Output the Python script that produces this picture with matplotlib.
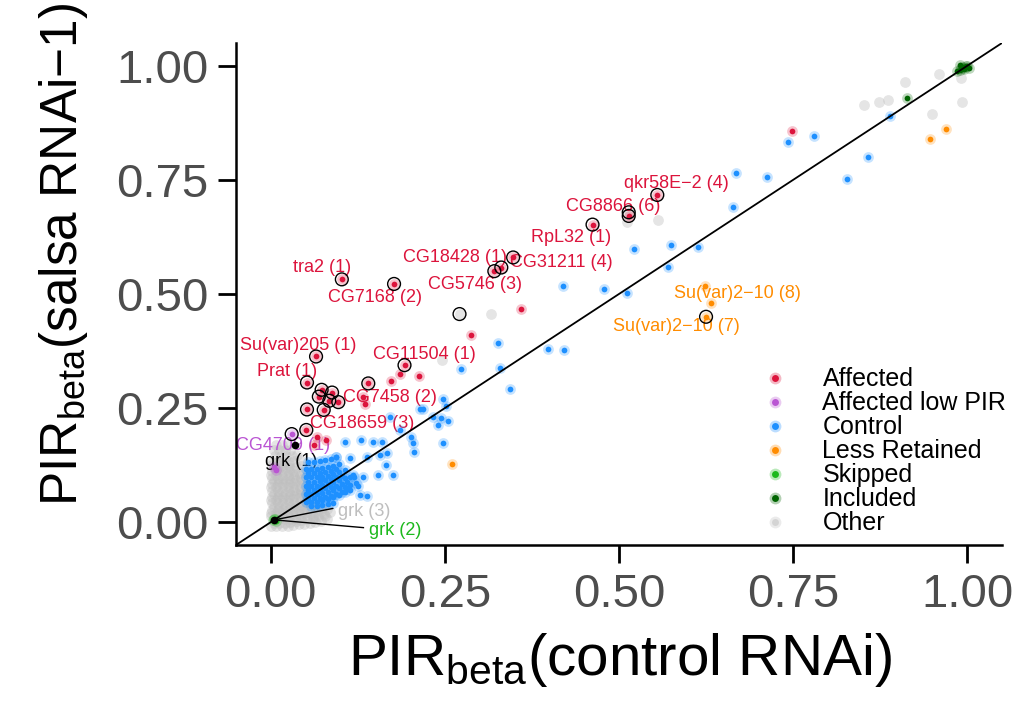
import matplotlib
matplotlib.use("Agg")
import matplotlib.pyplot as plt
from matplotlib.lines import Line2D

plt.rcParams['font.family'] = ['Liberation Sans', 'DejaVu Sans']
plt.rcParams['mathtext.fontset'] = 'custom'
plt.rcParams['mathtext.rm'] = 'Liberation Sans'

# ---- data (PIR control RNAi, PIR salsa RNAi-1) ----
affected_x = [0.748, 0.555, 0.514, 0.462, 0.348, 0.331, 0.321, 0.359, 0.288, 0.102, 0.177,
              0.065, 0.052, 0.192, 0.186, 0.213, 0.172, 0.140, 0.132, 0.135, 0.073, 0.088,
              0.069, 0.084, 0.097, 0.052, 0.076, 0.051, 0.067, 0.079, 0.062]
affected_y = [0.857, 0.717, 0.671, 0.652, 0.580, 0.558, 0.550, 0.466, 0.410, 0.532, 0.522,
              0.363, 0.306, 0.344, 0.325, 0.321, 0.309, 0.304, 0.275, 0.259, 0.290, 0.284,
              0.275, 0.266, 0.263, 0.247, 0.246, 0.202, 0.187, 0.181, 0.170]

lowpir_x = [0.030, 0.008, 0.005]
lowpir_y = [0.193, 0.114, 0.120]

control_x = [0.668, 0.713, 0.742, 0.780, 0.827, 0.857, 0.889, 0.664, 0.521, 0.574, 0.614,
             0.571, 0.419, 0.479, 0.512, 0.326, 0.273, 0.329, 0.398, 0.421, 0.343, 0.247,
             0.252, 0.218, 0.245, 0.255, 0.240, 0.247, 0.214, 0.233, 0.171, 0.185, 0.202,
             0.204, 0.159, 0.147, 0.130, 0.106, 0.206, 0.167, 0.157, 0.138, 0.114, 0.094,
             0.166, 0.154, 0.176, 0.118, 0.132, 0.138,
             # dense blue patch above the diagonal near the origin
             0.050, 0.058, 0.066, 0.074, 0.082, 0.090, 0.098, 0.106, 0.114,
             0.050, 0.058, 0.066, 0.074, 0.082, 0.090, 0.098, 0.106, 0.114, 0.122,
             0.050, 0.058, 0.066, 0.074, 0.082, 0.090, 0.098, 0.106, 0.114,
             0.050, 0.058, 0.066, 0.074, 0.082, 0.090, 0.098, 0.106,
             0.050, 0.058, 0.066, 0.074, 0.082, 0.090, 0.098,
             0.054, 0.062, 0.070, 0.078, 0.086, 0.094,
             0.058, 0.066, 0.074, 0.082, 0.090, 0.120, 0.125, 0.128,
             0.054, 0.062, 0.070, 0.078, 0.086, 0.094, 0.102, 0.110,
             0.054, 0.062, 0.070, 0.078, 0.086, 0.094, 0.102, 0.110,
             0.054, 0.062, 0.070, 0.078, 0.086, 0.094, 0.102,
             0.054, 0.062, 0.070, 0.078, 0.086, 0.094]
control_y = [0.766, 0.756, 0.832, 0.847, 0.752, 0.801, 0.890, 0.690, 0.599, 0.607, 0.602,
             0.560, 0.518, 0.511, 0.503, 0.393, 0.335, 0.337, 0.379, 0.377, 0.291, 0.270,
             0.255, 0.247, 0.228, 0.222, 0.212, 0.174, 0.247, 0.231, 0.230, 0.202, 0.187,
             0.173, 0.176, 0.176, 0.181, 0.175, 0.154, 0.151, 0.147, 0.143, 0.140, 0.143,
             0.125, 0.103, 0.103, 0.103, 0.099, 0.058,
             0.045, 0.045, 0.045, 0.048, 0.050, 0.055, 0.060, 0.065, 0.070,
             0.062, 0.062, 0.062, 0.064, 0.066, 0.070, 0.074, 0.078, 0.082, 0.086,
             0.080, 0.080, 0.080, 0.082, 0.084, 0.088, 0.092, 0.096, 0.100,
             0.098, 0.098, 0.098, 0.100, 0.102, 0.106, 0.110, 0.114,
             0.116, 0.116, 0.116, 0.118, 0.120, 0.124, 0.128,
             0.132, 0.132, 0.134, 0.136, 0.138, 0.142,
             0.035, 0.035, 0.037, 0.040, 0.042, 0.100, 0.080, 0.060,
             0.053, 0.053, 0.054, 0.056, 0.058, 0.062, 0.067, 0.072,
             0.071, 0.071, 0.072, 0.074, 0.076, 0.080, 0.084, 0.088,
             0.089, 0.089, 0.090, 0.092, 0.094, 0.098, 0.102,
             0.107, 0.107, 0.108, 0.110, 0.112, 0.116]

less_x = [0.624, 0.632, 0.625, 0.260, 0.969, 0.946]
less_y = [0.518, 0.480, 0.450, 0.128, 0.862, 0.840]

skipped_x = [0.003, 0.006, 0.008, 0.004]
skipped_y = [0.004, 0.006, 0.003, 0.008]

included_x = [0.913, 0.990, 0.994, 0.998, 1.000, 0.996, 0.992, 0.986, 1.002, 0.990]
included_y = [0.930, 0.990, 0.996, 0.999, 1.000, 0.993, 0.997, 0.988, 0.996, 1.001]

other_x = [0.512, 0.556, 0.514, 0.271, 0.316, 0.246, 0.852, 0.874, 0.886, 0.911, 0.959,
           0.991, 0.993, 0.949,
           # dense grey cloud of low-PIR events near the origin
           0.000, 0.008, 0.016, 0.024, 0.032, 0.040, 0.048, 0.056, 0.064, 0.072, 0.080,
           0.004, 0.012, 0.020, 0.028, 0.036, 0.044, 0.052, 0.060, 0.068, 0.076, 0.085,
           0.000, 0.008, 0.016, 0.024, 0.032, 0.040, 0.048, 0.056, 0.064, 0.072,
           0.004, 0.012, 0.020, 0.028, 0.036, 0.044, 0.052,
           0.000, 0.008, 0.016, 0.024, 0.032, 0.040, 0.048,
           0.004, 0.012, 0.020, 0.028, 0.036, 0.044,
           0.000, 0.008, 0.016, 0.024, 0.032, 0.040, 0.048,
           0.004, 0.012, 0.020, 0.028, 0.036, 0.044,
           0.000, 0.008, 0.016, 0.024, 0.032, 0.040, 0.048,
           0.004, 0.012, 0.020, 0.028, 0.036, 0.044,
           0.002, 0.010, 0.018, 0.026, 0.034, 0.042,
           0.006, 0.014, 0.022, 0.030, 0.038,
           0.004, 0.012, 0.020, 0.028,
           0.008, 0.016, 0.024,
           0.004, 0.012, 0.020, 0.028, 0.036, 0.044, 0.052, 0.060, 0.068, 0.078,
           0.000, 0.008, 0.016, 0.024, 0.032, 0.040, 0.048, 0.056, 0.064, 0.072, 0.080,
           0.002, 0.010, 0.018, 0.026, 0.034, 0.042, 0.050, 0.060,
           0.002, 0.010, 0.018, 0.026, 0.034, 0.042, 0.050,
           0.002, 0.010, 0.018, 0.026, 0.034, 0.042, 0.050,
           0.002, 0.010, 0.018, 0.026, 0.034, 0.042,
           0.002, 0.010, 0.018, 0.026, 0.034, 0.042,
           0.002, 0.010, 0.018, 0.026, 0.034, 0.042,
           0.002, 0.010, 0.018, 0.026, 0.034,
           0.002, 0.010, 0.018, 0.026]
other_y = [0.658, 0.662, 0.679, 0.456, 0.456, 0.355, 0.914, 0.921, 0.925, 0.964, 0.982,
           0.973, 0.920, 0.895,
           -0.008, -0.008, -0.008, -0.008, -0.006, -0.005, -0.004, -0.002, 0.000, 0.002, 0.006,
           0.006, 0.006, 0.006, 0.006, 0.008, 0.010, 0.012, 0.014, 0.016, 0.018, 0.022,
           0.020, 0.020, 0.020, 0.020, 0.022, 0.024, 0.026, 0.028, 0.030, 0.032,
           0.034, 0.034, 0.034, 0.034, 0.036, 0.038, 0.040,
           0.048, 0.048, 0.048, 0.048, 0.050, 0.052, 0.056,
           0.062, 0.062, 0.062, 0.062, 0.064, 0.066,
           0.076, 0.076, 0.076, 0.076, 0.078, 0.080, 0.082,
           0.090, 0.090, 0.090, 0.090, 0.092, 0.094,
           0.104, 0.104, 0.104, 0.104, 0.106, 0.108, 0.110,
           0.118, 0.118, 0.118, 0.118, 0.120, 0.122,
           0.132, 0.132, 0.132, 0.132, 0.134, 0.136,
           0.146, 0.146, 0.146, 0.146, 0.148,
           0.158, 0.158, 0.158, 0.158,
           0.168, 0.168, 0.168,
           -0.001, -0.001, -0.001, 0.000, 0.002, 0.004, 0.006, 0.008, 0.010, 0.013,
           0.013, 0.013, 0.013, 0.013, 0.015, 0.017, 0.019, 0.021, 0.023, 0.025, 0.028,
           0.027, 0.027, 0.027, 0.027, 0.029, 0.031, 0.033, 0.036,
           0.041, 0.041, 0.041, 0.041, 0.043, 0.045, 0.047,
           0.055, 0.055, 0.055, 0.055, 0.057, 0.059, 0.061,
           0.069, 0.069, 0.069, 0.069, 0.071, 0.073,
           0.083, 0.083, 0.083, 0.083, 0.085, 0.087,
           0.097, 0.097, 0.097, 0.097, 0.099, 0.101,
           0.111, 0.111, 0.111, 0.111, 0.113,
           0.125, 0.125, 0.125, 0.125]

# highlighted (ringed) events
ring_x = [0.555, 0.514, 0.514, 0.462, 0.348, 0.331, 0.321, 0.271, 0.102, 0.177, 0.065,
          0.052, 0.192, 0.140, 0.073, 0.088, 0.069, 0.084, 0.097, 0.052, 0.076, 0.051,
          0.030, 0.625]
ring_y = [0.717, 0.671, 0.679, 0.652, 0.580, 0.558, 0.550, 0.456, 0.532, 0.522, 0.363,
          0.306, 0.344, 0.304, 0.290, 0.284, 0.275, 0.266, 0.263, 0.247, 0.246, 0.202,
          0.193, 0.450]

grk_x = [0.035, 0.005]
grk_y = [0.169, 0.005]

labels = ["qkr58E\u22122 (4)", "CG8866 (6)", "RpL32 (1)", "CG31211 (4)", "CG18428 (1)",
          "CG5746 (3)", "tra2 (1)", "CG7168 (2)", "Su(var)205 (1)", "Prat (1)",
          "CG11504 (1)", "CG7458 (2)", "CG18659 (3)", "CG4709 (1)", "grk (1)",
          "grk (3)", "grk (2)", "Su(var)2\u221210 (8)", "Su(var)2\u221210 (7)"]
label_x = [0.582, 0.491, 0.431, 0.417, 0.264, 0.293, 0.073, 0.149, 0.039, 0.024,
           0.221, 0.171, 0.131, 0.017, 0.030, 0.134, 0.178, 0.670, 0.583]
label_y = [0.743, 0.691, 0.623, 0.570, 0.581, 0.520, 0.557, 0.493, 0.386, 0.331,
           0.368, 0.274, 0.217, 0.167, 0.134, 0.024, -0.018, 0.502, 0.428]
label_cat = ["Affected"] * 13 + ["Affected low PIR", "grk", "Other", "Skipped",
                                 "Less Retained", "Less Retained"]

colors = {"Affected": "#DC143C", "Affected low PIR": "#BA55D3", "Control": "#1E90FF",
          "Less Retained": "#FF8C00", "Skipped": "#1DB91D", "Included": "#006400",
          "Other": "#BEBEBE", "grk": "black"}

fig = plt.figure(figsize=(10.18, 7.15), dpi=100)
ax = fig.add_axes([0.2318, 0.2378, 0.7525, 0.7021])

ax.scatter(other_x, other_y, s=60, color=colors["Other"], alpha=0.4, lw=0, zorder=1)

series = [("Affected", affected_x, affected_y), ("Affected low PIR", lowpir_x, lowpir_y),
          ("Control", control_x, control_y), ("Less Retained", less_x, less_y),
          ("Skipped", skipped_x, skipped_y), ("Included", included_x, included_y)]
for name, xs, ys in series:
    ax.scatter(xs, ys, s=60, color=colors[name], alpha=0.25, lw=0, zorder=3)
    ax.scatter(xs, ys, s=17, color=colors[name], lw=0, zorder=3)

ax.scatter(ring_x, ring_y, s=85, facecolor='none', edgecolor='black', lw=1.0, zorder=4)
ax.scatter(grk_x, grk_y, s=30, color='black', lw=0, zorder=4)

ax.plot([-0.05, 1.05], [-0.05, 1.05], color='black', lw=1.3, zorder=3)

# labels with leader lines for the grk (2)/(3) events
for t, lx, ly, c in zip(labels, label_x, label_y, label_cat):
    ax.text(lx, ly, t, color=colors[c], fontsize=13, ha='center', va='center', zorder=2)
for t, lx, ly in zip(labels, label_x, label_y):
    if t in ("grk (3)", "grk (2)"):
        ax.plot([grk_x[1], lx - 0.045], [grk_y[1], ly + 0.006], color='black', lw=1.0, zorder=4)

ax.set_xlim(-0.05, 1.05)
ax.set_ylim(-0.05, 1.05)
ticks = [0.0, 0.25, 0.5, 0.75, 1.0]
ax.set_xticks(ticks)
ax.set_yticks(ticks)
ax.set_xticklabels(["%.2f" % v for v in ticks])
ax.set_yticklabels(["%.2f" % v for v in ticks])
ax.tick_params(length=13, width=2, labelsize=34, labelcolor='#4D4D4D', pad=7)
for s in ['top', 'right']:
    ax.spines[s].set_visible(False)
for s in ['left', 'bottom']:
    ax.spines[s].set_linewidth(1.8)

ax.set_xlabel(r'PIR$_{\mathrm{beta}}$(control RNAi)', fontsize=42)
ax.set_ylabel('PIR$_{\\mathrm{beta}}$(salsa RNAi\u22121)', fontsize=37)
ax.xaxis.set_label_coords(0.501, -0.172)
ax.yaxis.set_label_coords(-0.19, 0.578)

leg_names = ["Affected", "Affected low PIR", "Control", "Less Retained", "Skipped",
             "Included", "Other"]
handles = []
for n in leg_names:
    halo = Line2D([0], [0], marker='o', ls='none', markersize=8.5, markeredgewidth=0,
                  color=colors[n], alpha=0.3)
    core = Line2D([0], [0], marker='o', ls='none', markersize=5, markeredgewidth=0,
                  color=colors[n], alpha=(0.5 if n == "Other" else 1))
    handles.append((halo, core))
ax.legend(handles, leg_names, loc='upper left', bbox_to_anchor=(0.671, 0.354),
          frameon=False, fontsize=18, borderpad=0, borderaxespad=0,
          labelspacing=0.0, handlelength=2.0, handletextpad=0.9)

fig.savefig("out.png", dpi=100)
